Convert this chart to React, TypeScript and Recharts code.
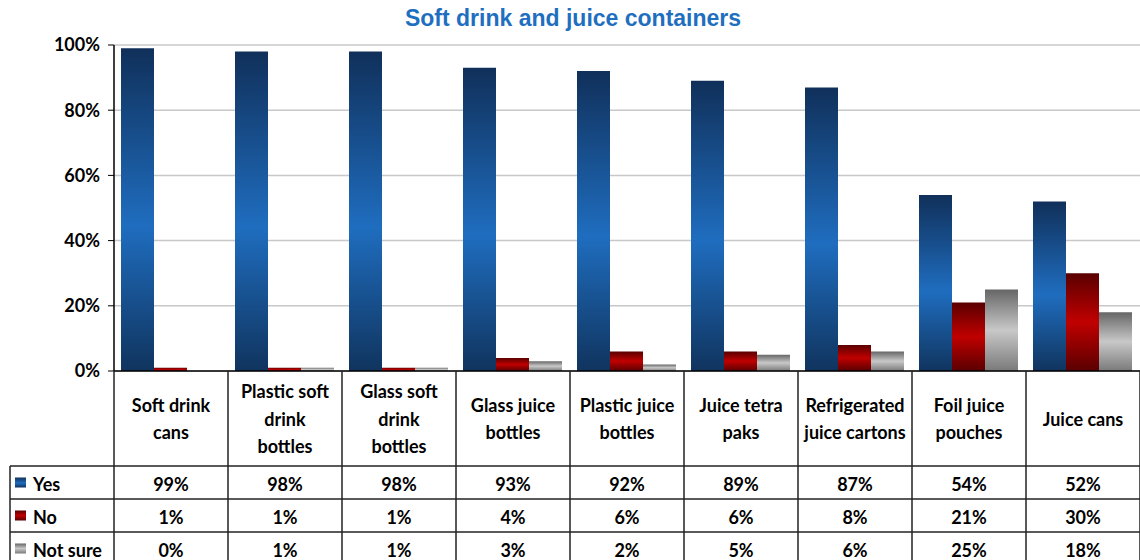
import React from 'react'
import { BarChart, Bar, XAxis, YAxis, CartesianGrid } from 'recharts'

// category labels, already split into the lines shown in the table header
const categoryLines = [
  ['Soft drink', 'cans'],
  ['Plastic soft', 'drink', 'bottles'],
  ['Glass soft', 'drink', 'bottles'],
  ['Glass juice', 'bottles'],
  ['Plastic juice', 'bottles'],
  ['Juice tetra', 'paks'],
  ['Refrigerated', 'juice cartons'],
  ['Foil juice', 'pouches'],
  ['Juice cans'],
]
const yesValues = [99, 98, 98, 93, 92, 89, 87, 54, 52]
const noValues = [1, 1, 1, 4, 6, 6, 8, 21, 30]
const notSureValues = [0, 1, 1, 3, 2, 5, 6, 25, 18]
const seriesNames = ['Yes', 'No', 'Not sure']
const yTicks = [0, 20, 40, 60, 80, 100]

const data = categoryLines.map((lines, i) => ({
  name: lines.join(' '),
  yes: yesValues[i],
  no: noValues[i],
  notSure: notSureValues[i],
}))

const W = 1140
const H = 560
const AXIS_W = 114
const BAND = (W - AXIS_W) / categoryLines.length
const FONT = 'Lato, "Noto Sans", sans-serif'
const FS = 18
const LINE = '#222'

const rows = [
  { values: yesValues, grad: 'url(#gYes)' },
  { values: noValues, grad: 'url(#gNo)' },
  { values: notSureValues, grad: 'url(#gNot)' },
]

// each x tick draws its own column of the data table
function TableTick(props: any) {
  const { x, y, payload } = props
  const i = payload.index
  const left = x - BAND / 2
  const right = x + BAND / 2
  const lines = categoryLines[i]
  const headerH = 95
  const rowH = 33
  const labelTop = y + headerH / 2 - ((lines.length - 1) * 27.5) / 2
  return (
    <g>
      {i === 0 && (
        <g>
          <line x1={left} y1={y} x2={left} y2={H} stroke={LINE} strokeWidth={1.5} />
          <line x1={10} y1={y + headerH} x2={10} y2={H} stroke={LINE} strokeWidth={1.5} />
          {[0, 1, 2].map((r) => (
            <line key={r} x1={10} y1={y + headerH + r * rowH} x2={W} y2={y + headerH + r * rowH} stroke={LINE} strokeWidth={1.5} />
          ))}
          {seriesNames.map((s, r) => (
            <g key={s}>
              <rect x={15} y={y + headerH + r * rowH + rowH / 2 - 5} width={11} height={10} fill={rows[r].grad} />
              <text x={33} y={y + headerH + r * rowH + rowH / 2 + 1} dominantBaseline="central" fontFamily={FONT} fontWeight={700} fontSize={FS} fill="#000">
                {s}
              </text>
            </g>
          ))}
        </g>
      )}
      <line x1={right} y1={y} x2={right} y2={H} stroke={LINE} strokeWidth={1.5} />
      {lines.map((l, k) => (
        <text key={k} x={x} y={labelTop + k * 27.5} textAnchor="middle" dominantBaseline="central" fontFamily={FONT} fontWeight={700} fontSize={FS} fill="#000">
          {l}
        </text>
      ))}
      {rows.map((r, k) => (
        <text key={k} x={x} y={y + headerH + k * rowH + rowH / 2 + 1} textAnchor="middle" dominantBaseline="central" fontFamily={FONT} fontWeight={700} fontSize={FS} fill="#000">
          {r.values[i] + '%'}
        </text>
      ))}
    </g>
  )
}

export default function App() {
  return (
    <div style={{ position: 'absolute', left: 0, top: 0, width: W, height: H, background: '#fff' }}>
      <div
        style={{
          position: 'absolute',
          top: 5,
          left: 3,
          width: W,
          textAlign: 'center',
          fontFamily: '"Liberation Sans", Arial, sans-serif',
          fontWeight: 700,
          fontSize: 23,
          color: '#1f6fc0',
          zIndex: 1,
        }}
      >
        Soft drink and juice containers
      </div>
      <BarChart
        width={W}
        height={H}
        data={data}
        margin={{ top: 45, right: 0, left: 0, bottom: 0 }}
        barCategoryGap={7}
        barGap={0}
      >
        <defs>
          <linearGradient id="gYes" x1="0" y1="0" x2="0" y2="1">
            <stop offset="0%" stopColor="#10305a" />
            <stop offset="55%" stopColor="#1f6dbf" />
            <stop offset="100%" stopColor="#10345e" />
          </linearGradient>
          <linearGradient id="gNo" x1="0" y1="0" x2="0" y2="1">
            <stop offset="0%" stopColor="#5a0000" />
            <stop offset="50%" stopColor="#c00000" />
            <stop offset="100%" stopColor="#5a0000" />
          </linearGradient>
          <linearGradient id="gNot" x1="0" y1="0" x2="0" y2="1">
            <stop offset="0%" stopColor="#666666" />
            <stop offset="50%" stopColor="#c8c8c8" />
            <stop offset="100%" stopColor="#7a7a7a" />
          </linearGradient>
        </defs>
        <CartesianGrid vertical={false} stroke="#c8c8c8" strokeWidth={1.5} />
        <XAxis
          dataKey="name"
          height={189}
          interval={0}
          axisLine={{ stroke: '#000', strokeWidth: 1.5 }}
          tickLine={false}
          tickSize={0}
          tickMargin={0}
          tick={(p: any) => <TableTick {...p} />}
        />
        <YAxis
          width={AXIS_W}
          domain={[0, 100]}
          ticks={yTicks}
          tickFormatter={(v: number) => v + '%'}
          axisLine={{ stroke: '#000', strokeWidth: 1.5 }}
          tickLine={{ stroke: '#000' }}
          tickSize={6}
          tickMargin={8}
          tick={{ fill: '#000', fontSize: FS, fontWeight: 700, fontFamily: FONT }}
        />
        <Bar dataKey="yes" name="Yes" fill="url(#gYes)" isAnimationActive={false} />
        <Bar dataKey="no" name="No" fill="url(#gNo)" isAnimationActive={false} />
        <Bar dataKey="notSure" name="Not sure" fill="url(#gNot)" isAnimationActive={false} />
      </BarChart>
    </div>
  )
}
